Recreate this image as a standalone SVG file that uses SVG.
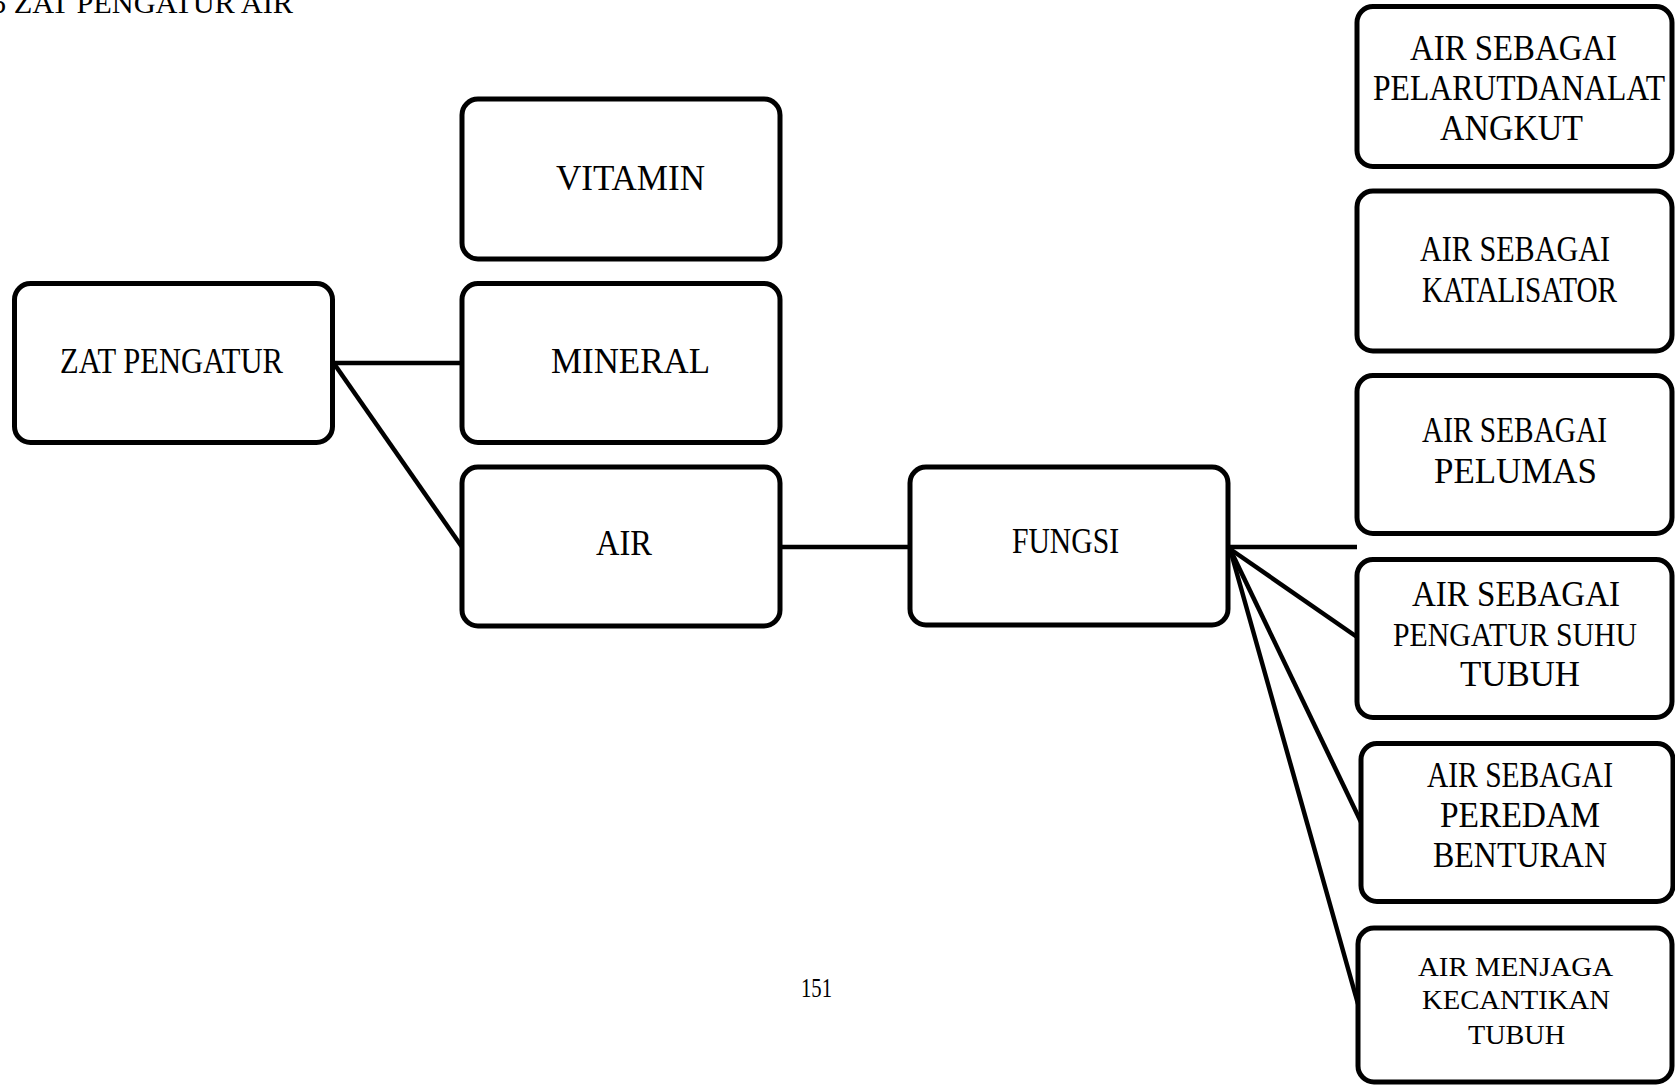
<svg xmlns="http://www.w3.org/2000/svg" width="1675" height="1085" viewBox="0 0 1675 1085">
  <style>
    .box { fill: #ffffff; stroke: #000000; stroke-width: 5; }
    .link { stroke: #000000; stroke-width: 4.5; fill: none; }
    text { font-family: "Liberation Serif", "Times New Roman", serif; fill: #000000; }
    .t35 { font-size: 35px; }
    .t33 { font-size: 33px; }
    .t27 { font-size: 27px; }
  </style>
  <rect width="1675" height="1085" fill="#ffffff"/>

  <!-- heading (partly above the page edge) and page number -->
  <text x="-9" y="13" font-size="30" textLength="302" lengthAdjust="spacingAndGlyphs">5 ZAT PENGATUR AIR</text>
  <text x="801" y="997" font-size="27" textLength="31" lengthAdjust="spacingAndGlyphs">151</text>

  <!-- connectors -->
  <g id="connectors">
    <line class="link" x1="333" y1="363" x2="462" y2="363"/>
    <line class="link" x1="335" y1="365" x2="462" y2="547"/>
    <line class="link" x1="780" y1="547" x2="910" y2="547"/>
    <line class="link" x1="1228" y1="547" x2="1357" y2="547"/>
    <line class="link" x1="1230" y1="549" x2="1357" y2="637"/>
    <line class="link" x1="1230" y1="549" x2="1361" y2="822"/>
    <line class="link" x1="1230" y1="549" x2="1358" y2="1004"/>
  </g>

  <g id="zat-pengatur">
    <rect class="box" x="14.5" y="283.5" width="318" height="159" rx="16"/>
    <text class="t35" x="60" y="373" textLength="223" lengthAdjust="spacingAndGlyphs">ZAT PENGATUR</text>
  </g>

  <g id="vitamin">
    <rect class="box" x="462" y="99" width="318" height="160" rx="16"/>
    <text class="t35" x="556" y="190" textLength="149" lengthAdjust="spacingAndGlyphs">VITAMIN</text>
  </g>

  <g id="mineral">
    <rect class="box" x="462" y="283.5" width="318" height="159" rx="16"/>
    <text class="t35" x="551" y="373" textLength="159" lengthAdjust="spacingAndGlyphs">MINERAL</text>
  </g>

  <g id="air">
    <rect class="box" x="462" y="467" width="318" height="159" rx="16"/>
    <text class="t35" x="596" y="555" textLength="56" lengthAdjust="spacingAndGlyphs">AIR</text>
  </g>

  <g id="fungsi">
    <rect class="box" x="910" y="467" width="318" height="158" rx="16"/>
    <text class="t35" x="1012" y="553" textLength="107" lengthAdjust="spacingAndGlyphs">FUNGSI</text>
  </g>

  <g id="pelarut">
    <rect class="box" x="1357" y="6.5" width="315" height="160" rx="16"/>
    <text class="t35" x="1410" y="60" textLength="207" lengthAdjust="spacingAndGlyphs">AIR SEBAGAI</text>
    <text class="t35" x="1373" y="100" textLength="292" lengthAdjust="spacingAndGlyphs">PELARUTDANALAT</text>
    <text class="t35" x="1440" y="140" textLength="143" lengthAdjust="spacingAndGlyphs">ANGKUT</text>
  </g>

  <g id="katalisator">
    <rect class="box" x="1357" y="191" width="315" height="160" rx="16"/>
    <text class="t35" x="1420" y="261" textLength="190" lengthAdjust="spacingAndGlyphs">AIR SEBAGAI</text>
    <text class="t35" x="1422" y="302" textLength="195" lengthAdjust="spacingAndGlyphs">KATALISATOR</text>
  </g>

  <g id="pelumas">
    <rect class="box" x="1357" y="375.5" width="315" height="158" rx="16"/>
    <text class="t35" x="1422" y="442" textLength="185" lengthAdjust="spacingAndGlyphs">AIR SEBAGAI</text>
    <text class="t35" x="1434" y="483" textLength="163" lengthAdjust="spacingAndGlyphs">PELUMAS</text>
  </g>

  <g id="pengatur-suhu">
    <rect class="box" x="1357" y="559.5" width="315" height="158" rx="16"/>
    <text class="t35" x="1412" y="606" textLength="208" lengthAdjust="spacingAndGlyphs">AIR SEBAGAI</text>
    <text class="t33" x="1393" y="646" textLength="244" lengthAdjust="spacingAndGlyphs">PENGATUR SUHU</text>
    <text class="t35" x="1460" y="686" textLength="120" lengthAdjust="spacingAndGlyphs">TUBUH</text>
  </g>

  <g id="peredam">
    <rect class="box" x="1361" y="743.5" width="312" height="158" rx="16"/>
    <text class="t35" x="1427" y="787" textLength="186" lengthAdjust="spacingAndGlyphs">AIR SEBAGAI</text>
    <text class="t35" x="1440" y="827" textLength="160" lengthAdjust="spacingAndGlyphs">PEREDAM</text>
    <text class="t35" x="1433" y="867" textLength="174" lengthAdjust="spacingAndGlyphs">BENTURAN</text>
  </g>

  <g id="kecantikan">
    <rect class="box" x="1358" y="928" width="314" height="154" rx="16"/>
    <text class="t27" x="1418" y="976" textLength="195" lengthAdjust="spacingAndGlyphs">AIR MENJAGA</text>
    <text class="t27" x="1422" y="1009" textLength="188" lengthAdjust="spacingAndGlyphs">KECANTIKAN</text>
    <text class="t27" x="1468" y="1044" textLength="97" lengthAdjust="spacingAndGlyphs">TUBUH</text>
  </g>
</svg>
